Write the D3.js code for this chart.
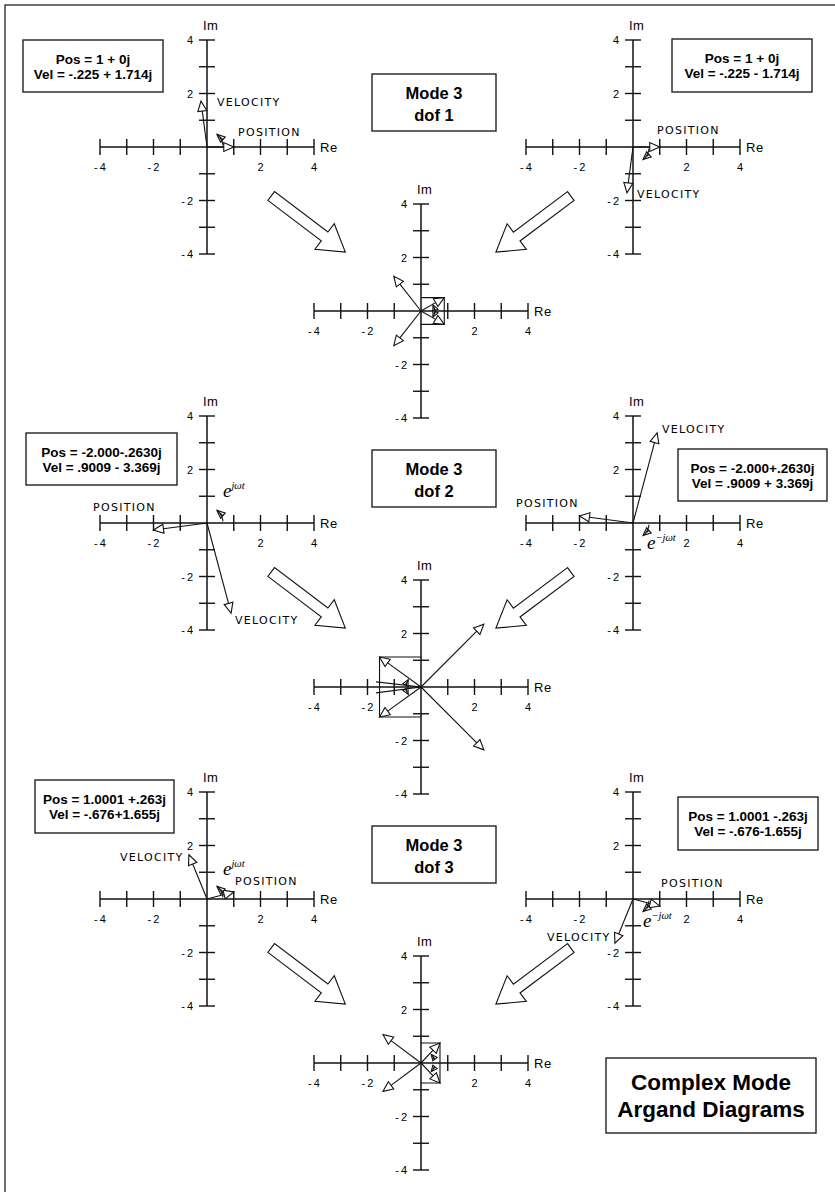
<!DOCTYPE html>
<html>
<head>
<meta charset="utf-8">
<script src="https://cdn.jsdelivr.net/npm/d3@7"></script>
<style>
  body { margin: 0; background: #fff; }
  .tick-label { font: 11px "Liberation Sans", Arial, sans-serif; letter-spacing: 2px; }
  .axis-name { font: 13px "Liberation Sans", Arial, sans-serif; letter-spacing: 0.5px; }
  .vec-label { font: 11px "DejaVu Sans", sans-serif; letter-spacing: 1.3px; }
  .box-text { font: bold 13.5px "Liberation Sans", Arial, sans-serif; }
  .mode-text { font: bold 16.5px "Liberation Sans", Arial, sans-serif; }
  .title-text { font: bold 22.5px "Liberation Sans", Arial, sans-serif; }
  .ejwt { font: italic 19px "Liberation Serif", "Times New Roman", serif; }
</style>
</head>
<body>
<svg id="chart" width="835" height="1192"></svg>
<script>
// ---- data ----
const axisTicks = [-4, -3, -2, -1, 1, 2, 3, 4];
const tickLabels = [-4, -2, 2, 4];
const dofNames = ["dof 1", "dof 2", "dof 3"];

// phasors of mode 3, left diagram (e^{jwt}); right diagram is the conjugate
const posRe = [1, -2.000, 1.0001];
const posIm = [0, -0.2630, 0.263];
const velRe = [-0.225, 0.9009, -0.676];
const velIm = [1.714, -3.369, 1.655];

const leftPosText = ["Pos = 1 + 0j", "Pos = -2.000-.2630j", "Pos = 1.0001 +.263j"];
const leftVelText = ["Vel = -.225 + 1.714j", "Vel = .9009 - 3.369j", "Vel = -.676+1.655j"];
const rightPosText = ["Pos = 1 + 0j", "Pos = -2.000+.2630j", "Pos = 1.0001 -.263j"];
const rightVelText = ["Vel = -.225 - 1.714j", "Vel = .9009 + 3.369j", "Vel = -.676-1.655j"];

// center (sum) diagrams: rotated phasor (upper one), conjugate is mirrored
const sumPosRe = [0.87, -1.55, 0.71];
const sumPosIm = [0.50, 1.12, 0.75];
const sumVelRe = [-1.02, 2.35, -1.42];
const sumVelIm = [1.30, 2.35, 1.06];
// small rotation arcs inside center diagrams: radius, start angle, end angle (deg)
const sumArcR = [0.5, 0.55, 0.5];
const sumArcA0 = [4, 172, 16];
const sumArcA1 = [27, 150, 40];
// thin lines in dof 2 center diagram
const midLineRe = [-1.68, -1.68];
const midLineIm = [0.19, -0.22];

// block arrows, in units of the center diagram
const blockTailRe = [-5.6, 5.6];
const blockTailIm = [4.3, 4.3];
const blockTipRe = [-2.83, 2.8];
const blockTipIm = [2.2, 2.2];

// ---- layout ----
const svg = d3.select('#chart');
svg.append('rect').attr('width', 835).attr('height', 1192).attr('fill', '#fff');
svg.append('rect').attr('x', 5).attr('y', 5).attr('width', 900).attr('height', 1300)
  .attr('fill', 'none').attr('stroke', '#222').attr('stroke-width', 1.3);

const half = 107;                 // pixels for 4 units
const colX = { left: 207, center: 421, right: 633 };
const rowY = [147, 523, 899];
const centerDy = 164;

function makeScales(ox, oy) {
  return {
    x: d3.scaleLinear().domain([-4, 4]).range([ox - half, ox + half]),
    y: d3.scaleLinear().domain([-4, 4]).range([oy + half, oy - half])
  };
}

function drawAxes(g, s) {
  const st = '#111';
  g.append('line').attr('x1', s.x(-4)).attr('x2', s.x(4)).attr('y1', s.y(0)).attr('y2', s.y(0))
    .attr('stroke', st).attr('stroke-width', 1.5);
  g.append('line').attr('x1', s.x(0)).attr('x2', s.x(0)).attr('y1', s.y(-4)).attr('y2', s.y(4))
    .attr('stroke', st).attr('stroke-width', 1.5);
  g.selectAll('.xt').data(axisTicks).join('line').attr('class', 'xt')
    .attr('x1', d => s.x(d)).attr('x2', d => s.x(d))
    .attr('y1', s.y(0) - 8).attr('y2', s.y(0) + 8)
    .attr('stroke', st).attr('stroke-width', 1.4);
  g.selectAll('.yt').data(axisTicks).join('line').attr('class', 'yt')
    .attr('x1', s.x(0) - 8).attr('x2', s.x(0) + 8)
    .attr('y1', d => s.y(d)).attr('y2', d => s.y(d))
    .attr('stroke', st).attr('stroke-width', 1.4);
  g.selectAll('.xl').data(tickLabels).join('text').attr('class', 'tick-label xl')
    .attr('x', d => s.x(d) + 1).attr('y', s.y(0) + 24)
    .attr('text-anchor', 'middle').text(d => d);
  g.selectAll('.yl').data(tickLabels).join('text').attr('class', 'tick-label yl')
    .attr('x', s.x(0) - 12).attr('y', d => s.y(d) + 4)
    .attr('text-anchor', 'end').text(d => d);
  g.append('text').attr('class', 'axis-name').attr('x', s.x(0) - 4).attr('y', s.y(4) - 10).text('Im');
  g.append('text').attr('class', 'axis-name').attr('x', s.x(4) + 6).attr('y', s.y(0) + 5).text('Re');
}

function head(g, x0, y0, x1, y1, L, W) {
  const a = Math.atan2(y1 - y0, x1 - x0);
  const bx = x1 - L * Math.cos(a), by = y1 - L * Math.sin(a);
  const px = -Math.sin(a) * W, py = Math.cos(a) * W;
  g.append('path').attr('d', `M${x1},${y1}L${bx + px},${by + py}L${bx - px},${by - py}Z`)
    .attr('fill', '#fff').attr('stroke', '#111').attr('stroke-width', 1.1);
  return [bx, by];
}

function vector(g, s, re, im, withHead = true) {
  const x0 = s.x(0), y0 = s.y(0), x1 = s.x(re), y1 = s.y(im);
  let end = [x1, y1];
  if (withHead) end = head(g, x0, y0, x1, y1, 10, 4.5);
  g.append('line').attr('x1', x0).attr('y1', y0).attr('x2', end[0]).attr('y2', end[1])
    .attr('stroke', '#111').attr('stroke-width', 1.1);
}

function arc(g, s, r, a0, a1, L = 8, W = 3.5) {
  const n = 16;
  const pts = d3.range(n + 1).map(i => {
    const a = (a0 + (a1 - a0) * i / n) * Math.PI / 180;
    return [s.x(r * Math.cos(a)), s.y(r * Math.sin(a))];
  });
  const p = pts[n], q = pts[n - 2];
  const b = head(g, q[0], q[1], p[0], p[1], L, W);
  pts[n] = b;
  g.append('path').attr('d', d3.line()(pts)).attr('fill', 'none')
    .attr('stroke', '#111').attr('stroke-width', 1.1);
}

function textBox(x, y, w, h, lines, cls, lineGap, shift) {
  svg.append('rect').attr('x', x).attr('y', y).attr('width', w).attr('height', h)
    .attr('fill', '#fff').attr('stroke', '#222').attr('stroke-width', 1.4);
  const cy = y + h / 2;
  lines.forEach((t, i) => {
    svg.append('text').attr('class', cls).attr('x', x + w / 2)
      .attr('y', cy + shift + (i - (lines.length - 1) / 2) * lineGap)
      .attr('text-anchor', 'middle').text(t);
  });
}

function blockArrow(s, k) {
  const tx = s.x(blockTailRe[k]), ty = s.y(blockTailIm[k]);
  const px = s.x(blockTipRe[k]), py = s.y(blockTipIm[k]);
  const len = Math.hypot(px - tx, py - ty);
  const ux = (px - tx) / len, uy = (py - ty) / len, nx = -uy, ny = ux;
  const sw = 5.5, hw = 16, hl = 26;
  const hx = px - ux * hl, hy = py - uy * hl;
  const P = [
    [tx + nx * sw, ty + ny * sw], [hx + nx * sw, hy + ny * sw], [hx + nx * hw, hy + ny * hw],
    [px, py], [hx - nx * hw, hy - ny * hw], [hx - nx * sw, hy - ny * sw], [tx - nx * sw, ty - ny * sw]
  ];
  svg.append('path').attr('d', d3.line()(P) + 'Z').attr('fill', '#fff')
    .attr('stroke', '#111').attr('stroke-width', 1.1);
}

function vecLabel(s, dx, dy, t) {
  svg.append('text').attr('class', 'vec-label').attr('x', s.x(0) + dx).attr('y', s.y(0) + dy).text(t);
}

function ejwt(s, dx, dy, sup) {
  const t = svg.append('text').attr('class', 'ejwt').attr('x', s.x(0) + dx).attr('y', s.y(0) + dy).text('e');
  t.append('tspan').attr('dy', -8).style('font-size', '10.5px').text(sup);
}

// label offsets (pixels from diagram origin) per row: [posDx, posDy, velDx, velDy]
const leftLab = [[31, -11, 10, -41], [-114, -12, 28, 101], [28, -14, -87, -38]];
const rightLab = [[24, -13, 4, 51], [-117, -16, 29, -90], [28, -12, -86, 42]];
const leftBox = [[23, 40, 140, 52], [26, 433, 151, 52], [35, 780, 139, 53]];
const rightBox = [[672, 39, 140, 53], [678, 449, 149, 52], [678, 797, 140, 53]];

rowY.forEach((oy, k) => {
  // left diagram: e^{jwt}
  const sL = makeScales(colX.left, oy);
  const gL = svg.append('g');
  drawAxes(gL, sL);
  vector(gL, sL, posRe[k], posIm[k]);
  vector(gL, sL, velRe[k], velIm[k]);
  arc(gL, sL, 0.6, 6, 52);
  vecLabel(sL, leftLab[k][0], leftLab[k][1], 'POSITION');
  vecLabel(sL, leftLab[k][2], leftLab[k][3], 'VELOCITY');
  if (k > 0) ejwt(sL, 16, k === 1 ? -26 : -24, 'j\u03C9t');

  // right diagram: conjugate, e^{-jwt}
  const sR = makeScales(colX.right, oy);
  const gR = svg.append('g');
  drawAxes(gR, sR);
  vector(gR, sR, posRe[k], -posIm[k]);
  vector(gR, sR, velRe[k], -velIm[k]);
  arc(gR, sR, 0.6, -6, -52);
  vecLabel(sR, rightLab[k][0], rightLab[k][1], 'POSITION');
  vecLabel(sR, rightLab[k][2], rightLab[k][3], 'VELOCITY');
  if (k > 0) ejwt(sR, k === 1 ? 14 : 10, k === 1 ? 26 : 28, '\u2212j\u03C9t');

  // center diagram: both phasors summed
  const sC = makeScales(colX.center, oy + centerDy);
  const gC = svg.append('g');
  drawAxes(gC, sC);
  gC.append('path')
    .attr('d', d3.line()([[sC.x(0), sC.y(sumPosIm[k])], [sC.x(sumPosRe[k]), sC.y(sumPosIm[k])],
      [sC.x(sumPosRe[k]), sC.y(-sumPosIm[k])], [sC.x(0), sC.y(-sumPosIm[k])]]))
    .attr('fill', 'none').attr('stroke', '#111').attr('stroke-width', 1.1);
  if (k === 1) midLineRe.forEach((re, i) => vector(gC, sC, re, midLineIm[i], false));
  vector(gC, sC, sumPosRe[k], sumPosIm[k]);
  vector(gC, sC, sumPosRe[k], -sumPosIm[k]);
  vector(gC, sC, sumVelRe[k], sumVelIm[k]);
  vector(gC, sC, sumVelRe[k], -sumVelIm[k]);
  arc(gC, sC, sumArcR[k], sumArcA0[k], sumArcA1[k], 6, 2.8);
  arc(gC, sC, sumArcR[k], -sumArcA0[k], -sumArcA1[k], 6, 2.8);

  blockArrow(sC, 0);
  blockArrow(sC, 1);

  // boxes
  textBox(372, 74 + k * 376, 124, 57, ['Mode 3', dofNames[k]], 'mode-text', 22, 7);
  textBox(leftBox[k][0], leftBox[k][1], leftBox[k][2], leftBox[k][3],
    [leftPosText[k], leftVelText[k]], 'box-text', 15, 5);
  textBox(rightBox[k][0], rightBox[k][1], rightBox[k][2], rightBox[k][3],
    [rightPosText[k], rightVelText[k]], 'box-text', 15, 5);
});

textBox(606, 1058, 210, 75, ['Complex Mode', 'Argand Diagrams'], 'title-text', 27, 8);
</script>
</body>
</html>
